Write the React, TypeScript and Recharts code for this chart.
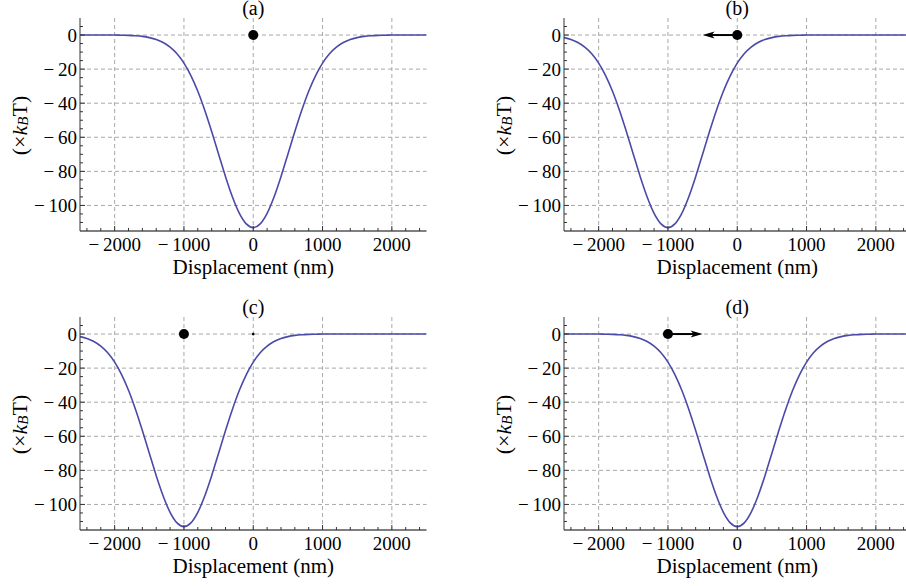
import React from 'react'
import { LineChart, Line, XAxis, YAxis, CartesianGrid, ReferenceDot, ReferenceLine } from 'recharts'

// displacement (nm), sampled every 100 nm
const displacement = [
  -2500, -2400, -2300, -2200, -2100, -2000, -1900, -1800, -1700, -1600, -1500, -1400, -1300,
  -1200, -1100, -1000, -900, -800, -700, -600, -500, -400, -300, -200, -100, 0,
  100, 200, 300, 400, 500, 600, 700, 800, 900, 1000, 1100, 1200, 1300, 1400, 1500,
  1600, 1700, 1800, 1900, 2000, 2100, 2200, 2300, 2400, 2500,
]

// potential (kBT) with the trap centred at 0 nm — panels (a) and (d)
const wellAtZero = [
  0, 0, 0, 0, 0, 0, -0.1, -0.2, -0.4, -0.8, -1.5, -2.6, -4.4,
  -7.1, -11.0, -16.5, -23.8, -33.0, -44.1, -56.6, -69.9, -83.1, -95.0, -104.6, -110.8, -113,
  -110.8, -104.6, -95.0, -83.1, -69.9, -56.6, -44.1, -33.0, -23.8, -16.5, -11.0, -7.1, -4.4, -2.6, -1.5,
  -0.8, -0.4, -0.2, -0.1, 0, 0, 0, 0, 0, 0,
]

// potential (kBT) with the trap moved to -1000 nm — panels (b) and (c)
const wellAtMinus1000 = [
  -1.5, -2.6, -4.4, -7.1, -11.0, -16.5, -23.8, -33.0, -44.1, -56.6, -69.9, -83.1, -95.0,
  -104.6, -110.8, -113, -110.8, -104.6, -95.0, -83.1, -69.9, -56.6, -44.1, -33.0, -23.8, -16.5,
  -11.0, -7.1, -4.4, -2.6, -1.5, -0.8, -0.4, -0.2, -0.1, 0, 0, 0, 0, 0, 0,
  0, 0, 0, 0, 0, 0, 0, 0, 0, 0,
]

const panelLabels = ['(a)', '(b)', '(c)', '(d)']
const panelSeries = ['centered', 'shifted', 'shifted', 'centered']
const particleX = [0, 0, -1000, -1000]
const arrowTipX = [null, -500, null, -500]
const faintMarkX = [null, null, 0, null]

const xMajorTicks = [-2000, -1000, 0, 1000, 2000]
const xAllTicks = [
  -2400, -2200, -2000, -1800, -1600, -1400, -1200, -1000, -800, -600, -400, -200, 0,
  200, 400, 600, 800, 1000, 1200, 1400, 1600, 1800, 2000, 2200, 2400,
]
const yMajorTicks = [0, -20, -40, -60, -80, -100]
const yAllTicks = [
  5, 0, -5, -10, -15, -20, -25, -30, -35, -40, -45, -50, -55, -60, -65, -70, -75, -80,
  -85, -90, -95, -100, -105, -110,
]

const rows = displacement.map((x, i) => ({ x, centered: wellAtZero[i], shifted: wellAtMinus1000[i] }))

const FONT = "'Liberation Serif', 'Times New Roman', serif"
const serif = { fontFamily: FONT }
const FRAME = '#333'
const CURVE = '#4a4aa8'

const fmt = (v: number) => (v < 0 ? '\u2212\u2009' + Math.abs(v) : String(v))

function BottomTick({ x, y, payload }: any) {
  const major = payload.value % 1000 === 0
  return (
    <g>
      <line x1={x} x2={x} y1={y} y2={y - (major ? 5 : 3)} stroke={FRAME} />
      {major && (
        <text x={x} y={y + 20} textAnchor="middle" style={serif} fontSize={19} fill="#000">
          {fmt(payload.value)}
        </text>
      )}
    </g>
  )
}

function TopTick({ x, y, payload }: any) {
  const major = payload.value % 1000 === 0
  return <line x1={x} x2={x} y1={y} y2={y + (major ? 5 : 3)} stroke={FRAME} />
}

function LeftTick({ x, y, payload }: any) {
  const major = payload.value % 20 === 0
  return (
    <g>
      <line x1={x} x2={x + (major ? 5 : 3)} y1={y} y2={y} stroke={FRAME} />
      {major && (
        <text x={x - 3} y={y + 6.5} textAnchor="end" style={serif} fontSize={19} fill="#000">
          {fmt(payload.value)}
        </text>
      )}
    </g>
  )
}

function RightTick({ x, y, payload }: any) {
  const major = payload.value % 20 === 0
  return <line x1={x} x2={x - (major ? 5 : 3)} y1={y} y2={y} stroke={FRAME} />
}

function EnergyLabel({ viewBox }: any) {
  const cx = viewBox.x + 1
  const cy = viewBox.y + viewBox.height / 2 + 1
  return (
    <text
      x={cx}
      y={cy}
      transform={`rotate(-90, ${cx}, ${cy})`}
      textAnchor="middle"
      dominantBaseline="central"
      style={serif}
      fontSize={22}
      fill="#000"
    >
      (×<tspan fontStyle="italic">k</tspan>
      <tspan fontStyle="italic" fontSize={15} dy={4}>B</tspan>
      <tspan dy={-4}>T)</tspan>
    </text>
  )
}

function XLabel({ viewBox }: any) {
  return (
    <text x={viewBox.x + viewBox.width / 2} y={viewBox.y + 43} textAnchor="middle" style={serif} fontSize={21} fill="#000">
      Displacement (nm)
    </text>
  )
}

function ArrowHead({ cx, cy, dir }: any) {
  const b = cx - dir * 12
  return <path d={`M${cx},${cy} L${b},${cy - 3.5} L${b + dir * 3},${cy} L${b},${cy + 3.5} Z`} fill="#000" />
}

function Panel({ idx }: { idx: number }) {
  const tip = arrowTipX[idx]
  const mark = faintMarkX[idx]
  const dir = tip === null ? 0 : tip < particleX[idx] ? -1 : 1
  return (
    <LineChart width={450} height={290} data={rows} margin={{ top: 18, right: 23.5, bottom: 17, left: 18 }}>
      <CartesianGrid
        xAxisId="x"
        yAxisId="y"
        verticalValues={xMajorTicks}
        horizontalValues={yMajorTicks}
        stroke="#a8a8a8"
        strokeDasharray="4 3"
      />
      <XAxis
        xAxisId="x"
        dataKey="x"
        type="number"
        domain={[-2500, 2500]}
        allowDataOverflow
        ticks={xAllTicks}
        interval={0}
        height={42}
        tickSize={0}
        tickMargin={0}
        tickLine={false}
        axisLine={{ stroke: '#555', strokeWidth: 1.6 }}
        tick={(p: any) => <BottomTick {...p} />}
        label={{ content: (p: any) => <XLabel {...p} /> }}
      />
      <XAxis
        xAxisId="top"
        dataKey="x"
        type="number"
        orientation="top"
        mirror
        domain={[-2500, 2500]}
        allowDataOverflow
        ticks={xAllTicks}
        interval={0}
        height={0}
        tickSize={0}
        tickMargin={0}
        tickLine={false}
        axisLine={{ stroke: FRAME }}
        tick={(p: any) => <TopTick {...p} />}
      />
      <YAxis
        yAxisId="y"
        type="number"
        domain={[-115, 10]}
        allowDataOverflow
        ticks={yAllTicks}
        interval={0}
        width={62}
        tickSize={0}
        tickMargin={0}
        tickLine={false}
        axisLine={{ stroke: FRAME }}
        tick={(p: any) => <LeftTick {...p} />}
        label={{ content: (p: any) => <EnergyLabel {...p} /> }}
      />
      <YAxis
        yAxisId="right"
        type="number"
        orientation="right"
        mirror
        domain={[-115, 10]}
        allowDataOverflow
        ticks={yAllTicks}
        interval={0}
        width={0}
        tickSize={0}
        tickMargin={0}
        tickLine={false}
        axisLine={{ stroke: FRAME }}
        tick={(p: any) => <RightTick {...p} />}
      />
      <Line
        xAxisId="x"
        yAxisId="y"
        type="monotone"
        dataKey={panelSeries[idx]}
        stroke={CURVE}
        strokeWidth={1.6}
        dot={false}
        isAnimationActive={false}
      />
      {tip !== null && (
        <ReferenceLine
          xAxisId="x"
          yAxisId="y"
          segment={[
            { x: particleX[idx], y: 0 },
            { x: tip - dir * 60, y: 0 },
          ]}
          stroke="#000"
          strokeWidth={2}
        />
      )}
      {tip !== null && (
        <ReferenceDot xAxisId="x" yAxisId="y" x={tip} y={0} r={4} shape={(p: any) => <ArrowHead {...p} dir={dir} />} />
      )}
      {mark !== null && <ReferenceDot xAxisId="x" yAxisId="y" x={mark} y={0} r={1.4} fill="#000" stroke="none" />}
      <ReferenceDot xAxisId="x" yAxisId="y" x={particleX[idx]} y={0} r={5} fill="#000" stroke="none" />
    </LineChart>
  )
}

const panelPos = [
  { left: 0, top: 0 },
  { left: 484, top: 0 },
  { left: 0, top: 299.3 },
  { left: 484, top: 299.3 },
]

export default function App() {
  return (
    <div style={{ position: 'absolute', left: 0, top: 0, width: 906, height: 586, overflow: 'hidden', background: '#fff' }}>
      {panelPos.map((pos, i) => (
        <div key={i} style={{ position: 'absolute', left: pos.left, top: pos.top, width: 450, height: 290 }}>
          <div
            style={{
              position: 'absolute',
              left: 80,
              width: 346.5,
              top: 0,
              textAlign: 'center',
              fontFamily: FONT,
              fontSize: 20,
              lineHeight: '16px',
              color: '#000',
            }}
          >
            {panelLabels[i]}
          </div>
          <Panel idx={i} />
        </div>
      ))}
    </div>
  )
}
